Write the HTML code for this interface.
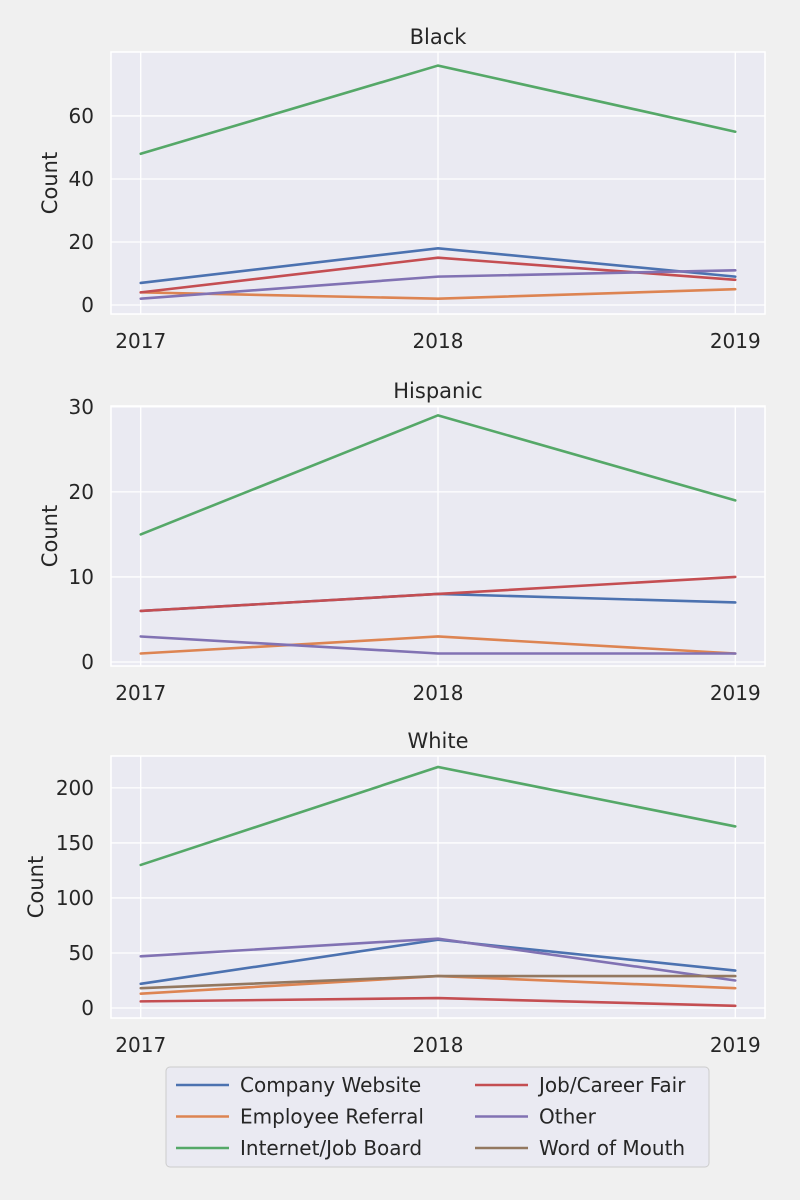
<!DOCTYPE html>
<html><head><meta charset="utf-8"><style>
body{margin:0;background:#f0f0f0;}
svg{display:block;font-family:"DejaVu Sans","Liberation Sans",sans-serif;}
</style></head><body>
<svg id="fig" width="800" height="1200"></svg>
<script>
const years=[2017,2018,2019];
const seriesNames=["Company Website","Employee Referral","Internet/Job Board","Job/Career Fair","Other","Word of Mouth"];
const colors=["#4c72b0","#dd8452","#55a868","#c44e52","#8172b3","#937860"];
const blackWebsite=[7,18,9],blackReferral=[4,2,5],blackInternet=[48,76,55],blackFair=[4,15,8],blackOther=[2,9,11];
const hispWebsite=[6,8,7],hispReferral=[1,3,1],hispInternet=[15,29,19],hispFair=[6,8,10],hispOther=[3,1,1];
const whiteWebsite=[22,62,34],whiteReferral=[13,29,18],whiteInternet=[130,219,165],whiteFair=[6,9,2],whiteOther=[47,63,25],whiteWord=[18,29,29];
const blackTicks=[0,20,40,60],hispTicks=[0,10,20,30],whiteTicks=[0,50,100,150,200];
const panels=[
 {title:"Black",top:52,bot:314,ymin:-2.86,ymax:80.3,ticks:blackTicks,series:[blackWebsite,blackReferral,blackInternet,blackFair,blackOther,null]},
 {title:"Hispanic",top:406,bot:666,ymin:-0.47,ymax:30.1,ticks:hispTicks,series:[hispWebsite,hispReferral,hispInternet,hispFair,hispOther,null]},
 {title:"White",top:756,bot:1018,ymin:-9.1,ymax:229,ticks:whiteTicks,series:[whiteWebsite,whiteReferral,whiteInternet,whiteFair,whiteOther,whiteWord]}
];
const svg=document.getElementById('fig');
const NS="http://www.w3.org/2000/svg";
function mk(t,a,p){const e=document.createElementNS(NS,t);for(const k in a)e.setAttribute(k,a[k]);(p||svg).appendChild(e);return e;}
const L=111,R=765;
const xs=v=>L+(v-2016.9)/2.2*(R-L);
panels.forEach((p,pi)=>{
 const g=mk('g',{});
 
 
 const ys=v=>p.bot-(v-p.ymin)/(p.ymax-p.ymin)*(p.bot-p.top);
 const bg=mk('rect',{x:L,y:p.top,width:R-L,height:p.bot-p.top,fill:'#eaeaf2'},g);
 
 
 years.forEach(y=>{
  mk('line',{x1:xs(y),x2:xs(y),y1:p.top,y2:p.bot,stroke:'#fff','stroke-width':1.3},g);
  const t=mk('text',{x:xs(y),y:p.bot+34,'text-anchor':'middle','font-size':20,fill:'#262626'},g);t.textContent=y;
  
  
 });
 p.ticks.forEach(v=>{
  mk('line',{x1:L,x2:R,y1:ys(v),y2:ys(v),stroke:'#fff','stroke-width':1.3},g);
  const t=mk('text',{x:L-17,y:ys(v)+7,'text-anchor':'end','font-size':20,fill:'#262626'},g);t.textContent=v;
  
  
 });
 mk('rect',{x:L,y:p.top,width:R-L,height:p.bot-p.top,fill:'none',stroke:'#fff','stroke-width':1.5},g);
 const tt=mk('text',{x:(L+R)/2,y:p.top-8,'text-anchor':'middle','font-size':21,fill:'#262626'},g);tt.textContent=p.title;
 
 
 const yl=mk('text',{x:0,y:0,'text-anchor':'middle','font-size':21,fill:'#262626',transform:`translate(${pi==2?43:57},${(p.top+p.bot)/2}) rotate(-90)`},g);yl.textContent="Count";
 
 
 p.series.forEach((s,si)=>{
  if(!s)return;
  const pl=mk('polyline',{points:s.map((v,i)=>xs(years[i])+','+ys(v)).join(' '),fill:'none',stroke:colors[si],'stroke-width':2.6,'stroke-linecap':'round'},g);
  
  
 });
});
const lg=mk('g',{});


mk('rect',{x:166,y:1067,width:543,height:100,rx:4,fill:'#eaeaf2',stroke:'#cccccc','stroke-width':1},lg);
seriesNames.forEach((n,i)=>{
 const col=Math.floor(i/3),row=i%3;
 const x=176+col*299,y=1085+row*31.5;
 mk('line',{x1:x,x2:x+53,y1:y,y2:y,stroke:colors[i],'stroke-width':2.6},lg);
 const t=mk('text',{x:x+64,y:y+7,'font-size':20,fill:'#262626'},lg);t.textContent=n;
 
 
});
</script>
</body></html>
